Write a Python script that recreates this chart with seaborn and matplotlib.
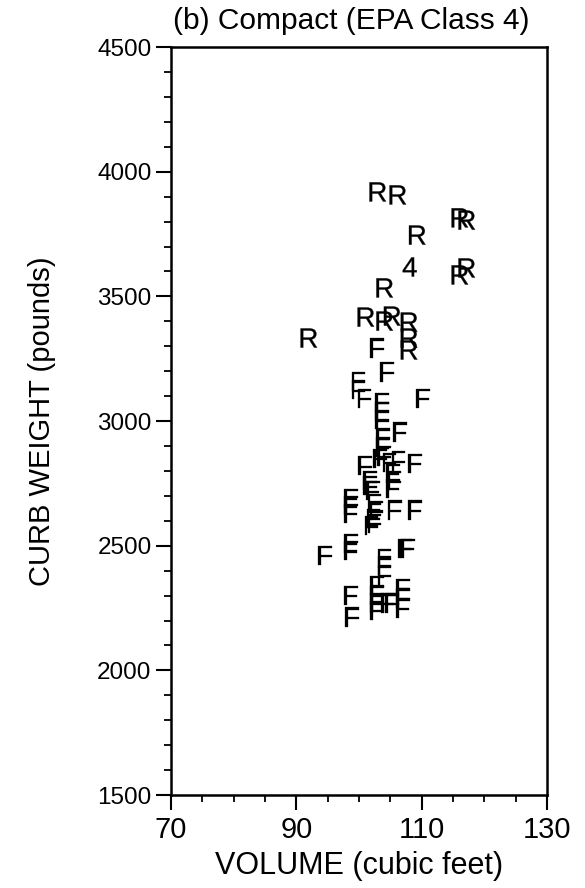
import pandas as pd
import seaborn as sns
import matplotlib.pyplot as plt
from matplotlib.ticker import FixedLocator, MultipleLocator

# --- data (volume in cubic feet, curb weight in pounds) ---
r_volume = [103.0, 106.2, 116.1, 117.2, 109.3, 116.1, 117.2, 104.1, 101.1, 104.1,
            105.3, 108.0, 92.0, 108.0, 108.0]
r_weight = [3919, 3907, 3815, 3806, 3746, 3586, 3614, 3534, 3417, 3401,
            3421, 3397, 3333, 3333, 3285]

four_volume = [108.1]
four_weight = [3618]

f_volume = [102.9, 104.5, 99.9, 99.9, 100.9, 110.2, 103.7, 103.7, 103.7, 106.5,
            103.8, 103.8, 101.0, 103.4, 104.0, 104.9, 106.3, 108.9, 101.8, 101.8,
            102.2, 105.4, 105.6, 105.4, 98.7, 98.7, 98.7, 102.5, 102.8, 102.3,
            102.5, 102.0, 105.7, 108.9, 98.7, 98.7, 107.3, 107.8, 94.6, 104.1,
            104.1, 104.1, 98.7, 98.9, 102.9, 102.9, 102.9, 102.9, 104.6, 105.3,
            107.0, 107.0, 107.0]
f_weight = [3293, 3197, 3160, 3125, 3092, 3092, 3075, 3040, 3005, 2956,
            2932, 2896, 2820, 2850, 2860, 2835, 2840, 2830, 2760, 2740,
            2720, 2790, 2760, 2730, 2690, 2660, 2630, 2670, 2640, 2610,
            2590, 2580, 2643, 2643, 2510, 2480, 2490, 2490, 2460, 2450,
            2420, 2380, 2300, 2214, 2340, 2300, 2270, 2240, 2270, 2270,
            2330, 2290, 2250]

x_ticks = [70, 90, 110, 130]

df = pd.DataFrame({
    'volume': r_volume + four_volume + f_volume,
    'weight': r_weight + four_weight + f_weight,
    'label': ['R'] * len(r_volume) + ['4'] * len(four_volume) + ['F'] * len(f_volume),
})

# --- style ---
sns.set_style("white")
plt.rcParams['font.family'] = ['Liberation Sans', 'DejaVu Sans']
plt.rcParams['mathtext.fontset'] = 'custom'
plt.rcParams['mathtext.sf'] = 'Liberation Sans'
plt.rcParams['mathtext.rm'] = 'Liberation Sans'
for key in ['text.color', 'axes.labelcolor', 'xtick.color', 'ytick.color']:
    plt.rcParams[key] = 'black'

fig = plt.figure(figsize=(5.85, 8.88), dpi=100)
ax = fig.add_axes([0.2923, 0.1047, 0.6427, 0.8423])

letter_markers = {'R': r'$\mathsf{R}$', 'F': r'$\mathsf{F}$', '4': r'$\mathsf{4}$'}
sns.scatterplot(data=df, x='volume', y='weight', style='label', markers=letter_markers,
                color='black', edgecolor='black', linewidth=0.2, s=190,
                legend=False, ax=ax)

ax.set_xlim(70, 130)
ax.set_ylim(1500, 4500)
ax.xaxis.set_major_locator(FixedLocator(x_ticks))
ax.xaxis.set_minor_locator(MultipleLocator(5))
ax.yaxis.set_major_locator(MultipleLocator(500))
ax.yaxis.set_minor_locator(MultipleLocator(100))

ax.tick_params(which='major', direction='out', length=11, width=1.5,
               bottom=True, left=True, top=False, right=False)
ax.tick_params(axis='x', which='major', labelsize=21, pad=4)
ax.tick_params(axis='y', which='major', labelsize=17.5, pad=3)
ax.tick_params(which='minor', direction='out', length=5, width=1.3,
               bottom=True, left=True, top=False, right=False)
for side in ax.spines.values():
    side.set_visible(True)
    side.set_color('black')
    side.set_linewidth(1.8)

ax.set_xlabel('VOLUME (cubic feet)', fontsize=22, labelpad=5)
ax.set_ylabel('CURB WEIGHT (pounds)', fontsize=21, labelpad=30)
ax.set_title('(b) Compact (EPA Class 4)', fontsize=21.5, pad=13, x=0.48)

plt.savefig('out.png', dpi=100)
